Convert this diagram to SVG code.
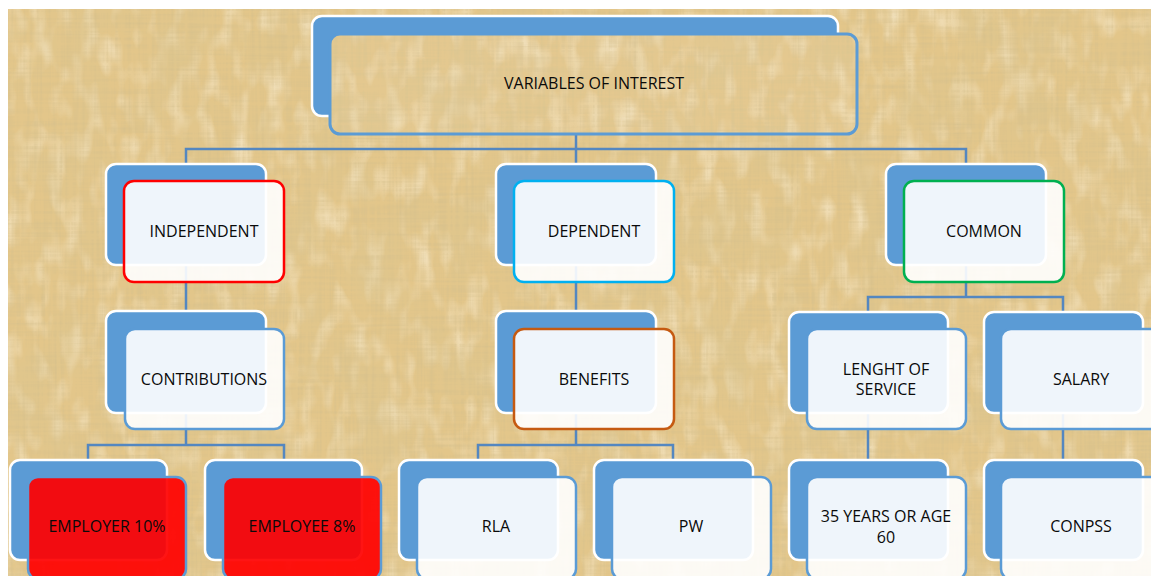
<svg xmlns="http://www.w3.org/2000/svg" width="1151" height="576" viewBox="0 0 1151 576">
<defs>
<filter id="paperDark" x="0" y="0" width="100%" height="100%">
<feTurbulence type="fractalNoise" baseFrequency="0.35 0.012" numOctaves="2" seed="3" result="n1"/>
<feTurbulence type="fractalNoise" baseFrequency="0.012 0.35" numOctaves="2" seed="9" result="n2"/>
<feComposite in="n1" in2="n2" operator="arithmetic" k2="0.5" k3="0.5" result="n"/>
<feColorMatrix in="n" type="matrix" values="0 0 0 0 0.66  0 0 0 0 0.52  0 0 0 0 0.26  1.7 0 0 0 -0.72"/>
</filter>
<filter id="paperBlot" x="0" y="0" width="100%" height="100%">
<feTurbulence type="fractalNoise" baseFrequency="0.02 0.015" numOctaves="3" seed="14" result="n1"/>
<feColorMatrix in="n1" type="matrix" values="0 0 0 0 0.7  0 0 0 0 0.56  0 0 0 0 0.28  1.2 0 0 0 -0.5"/>
</filter>
<filter id="paperLight" x="0" y="0" width="100%" height="100%">
<feTurbulence type="fractalNoise" baseFrequency="0.06 0.03" numOctaves="2" seed="21" result="n1"/>
<feColorMatrix in="n1" type="matrix" values="0 0 0 0 1  0 0 0 0 0.94  0 0 0 0 0.8  -1.2 0 0 0 0.65"/>
</filter>
<g id="bg">
<rect x="8" y="9" width="1143" height="567" fill="#e3c68a"/>
<rect x="8" y="9" width="1143" height="567" filter="url(#paperLight)"/>
<rect x="8" y="9" width="1143" height="567" filter="url(#paperBlot)"/>
<rect x="8" y="9" width="1143" height="567" filter="url(#paperDark)"/>
</g>
<clipPath id="topClip"><rect x="330" y="34" width="527" height="100" rx="10"/></clipPath>
</defs>
<style>
.back{fill:#5b9bd5;stroke:#ffffff;stroke-width:2.5}
.front{fill:#ffffff;fill-opacity:0.9;stroke:#5b9bd5;stroke-width:2.5}
.red{fill:#ff0000;fill-opacity:0.92;stroke:#5b9bd5;stroke-width:2.5}
.conn{fill:none;stroke:#5487c0;stroke-width:2.5}
.lbl{font-family:"Open Sans","Liberation Sans",sans-serif;font-size:16px;fill:#0a0a0a;text-anchor:middle;dominant-baseline:central}
</style>
<rect x="0" y="0" width="1151" height="576" fill="#ffffff"/>
<use href="#bg"/>

<g id="connectors" class="conn">
<path d="M576,116 V164 M186,164 V149 H966 V164"/>
<path d="M186,265 V311 M576,265 V311"/>
<path d="M966,265 V297 M868,312 V297 H1063 V312"/>
<path d="M186,413 V445 M88,460 V445 H284 V460"/>
<path d="M576,413 V445 M478,460 V445 H673 V460"/>
<path d="M868,413 V460 M1063,413 V460"/>
</g>

<g id="n-variables">
<rect class="back" x="312" y="16" width="526" height="100" rx="10"/>
<use href="#bg" clip-path="url(#topClip)"/>
<rect x="330" y="34" width="527" height="100" rx="10" fill="#ffffff" fill-opacity="0.05" stroke="#5b9bd5" stroke-width="3"/>
<text class="lbl" x="594" y="83">VARIABLES OF INTEREST</text>
</g>

<g id="n-independent">
<rect class="back" x="106" y="164" width="160" height="101" rx="10"/>
<rect class="front" x="124" y="181" width="160" height="101" rx="10" style="stroke:#ff0000"/>
<text class="lbl" x="204" y="231">INDEPENDENT</text>
</g>
<g id="n-dependent">
<rect class="back" x="496" y="164" width="160" height="101" rx="10"/>
<rect class="front" x="514" y="181" width="160" height="101" rx="10" style="stroke:#00b0f0"/>
<text class="lbl" x="594" y="231">DEPENDENT</text>
</g>
<g id="n-common">
<rect class="back" x="886" y="164" width="160" height="101" rx="10"/>
<rect class="front" x="904" y="181" width="160" height="101" rx="10" style="stroke:#00b050"/>
<text class="lbl" x="984" y="231">COMMON</text>
</g>

<g id="n-contributions">
<rect class="back" x="106" y="311" width="160" height="102" rx="10"/>
<rect class="front" x="125" y="329" width="159" height="100" rx="10"/>
<text class="lbl" x="204" y="379">CONTRIBUTIONS</text>
</g>
<g id="n-benefits">
<rect class="back" x="496" y="311" width="160" height="102" rx="10"/>
<rect class="front" x="514" y="329" width="160" height="100" rx="10" style="stroke:#c55a11"/>
<text class="lbl" x="594" y="379">BENEFITS</text>
</g>
<g id="n-length">
<rect class="back" x="789" y="312" width="159" height="101" rx="10"/>
<rect class="front" x="807" y="329" width="159" height="100" rx="10"/>
<text class="lbl" x="886" y="369">LENGHT OF</text>
<text class="lbl" x="886" y="389">SERVICE</text>
</g>
<g id="n-salary">
<rect class="back" x="984" y="312" width="159" height="101" rx="10"/>
<rect class="front" x="1001" y="329" width="159" height="100" rx="10"/>
<text class="lbl" x="1081" y="379">SALARY</text>
</g>

<g id="n-employer">
<rect class="back" x="10" y="460" width="157" height="100" rx="10"/>
<rect class="red" x="28" y="477" width="158" height="102" rx="10"/>
<text class="lbl" x="107" y="526">EMPLOYER 10%</text>
</g>
<g id="n-employee">
<rect class="back" x="205" y="460" width="157" height="100" rx="10"/>
<rect class="red" x="223" y="477" width="158" height="102" rx="10"/>
<text class="lbl" x="302" y="526">EMPLOYEE 8%</text>
</g>
<g id="n-rla">
<rect class="back" x="399" y="460" width="159" height="100" rx="10"/>
<rect class="front" x="417" y="477" width="159" height="102" rx="10"/>
<text class="lbl" x="496" y="526">RLA</text>
</g>
<g id="n-pw">
<rect class="back" x="594" y="460" width="159" height="100" rx="10"/>
<rect class="front" x="612" y="477" width="159" height="102" rx="10"/>
<text class="lbl" x="691" y="526">PW</text>
</g>
<g id="n-35years">
<rect class="back" x="789" y="460" width="159" height="100" rx="10"/>
<rect class="front" x="807" y="477" width="159" height="102" rx="10"/>
<text class="lbl" x="886" y="516">35 YEARS OR AGE</text>
<text class="lbl" x="886" y="537">60</text>
</g>
<g id="n-conpss">
<rect class="back" x="984" y="460" width="159" height="100" rx="10"/>
<rect class="front" x="1001" y="477" width="159" height="102" rx="10"/>
<text class="lbl" x="1081" y="526">CONPSS</text>
</g>
</svg>
